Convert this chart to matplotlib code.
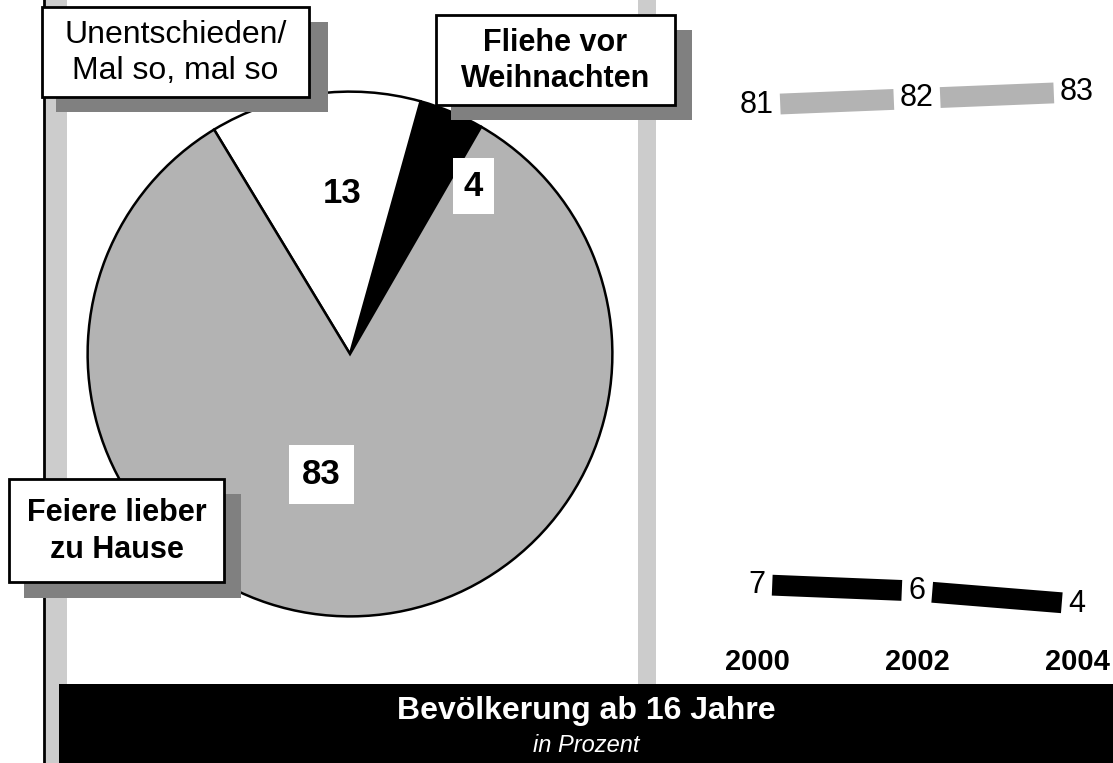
import matplotlib
matplotlib.use("Agg")
import matplotlib.pyplot as plt
import matplotlib.transforms as mtransforms
from matplotlib.patches import Rectangle

plt.rcParams["font.family"] = ["Liberation Sans", "DejaVu Sans"]

# --- data ---
pie_labels = ["Fliehe vor Weihnachten", "Unentschieden/Mal so, mal so", "Feiere lieber zu Hause"]
pie_values = [4, 13, 83]
pie_colors = ["#000000", "#ffffff", "#b3b3b3"]

years = [2000, 2002, 2004]
home_values = [81, 82, 83]
flee_values = [7, 6, 4]

title = "Bevölkerung ab 16 Jahre"
subtitle = "in Prozent"

W, H = 1113, 763
fig = plt.figure(figsize=(W / 100, H / 100), dpi=100)

# background layer in pixel coords
bg = fig.add_axes([0, 0, 1, 1], zorder=0)
bg.set_xlim(0, W)
bg.set_ylim(H, 0)
bg.axis("off")
bg.add_patch(Rectangle((45, 0), 22, H, color="#cccccc", lw=0))
bg.add_patch(Rectangle((638, 0), 18, 684, color="#cccccc", lw=0))
bg.plot([44, 44], [0, H], color="black", lw=2)

# pie
cx, cy, r = 350, 354, 265
ax_pie = fig.add_axes([(cx - r) / W, (H - cy - r) / H, 2 * r / W, 2 * r / H], zorder=1)
wedges, _ = ax_pie.pie(pie_values, colors=pie_colors, startangle=60, counterclock=True,
                       wedgeprops=dict(edgecolor="black", linewidth=1.8))
ax_pie.set_xlim(-1.01, 1.01)
ax_pie.set_ylim(-1.01, 1.01)
ax_pie.axis("off")
ax_pie.text(-0.03, 0.61, str(pie_values[1]), ha="center", va="center",
            fontsize=25, fontweight="bold")
ax_pie.text(0.47, 0.64, str(pie_values[0]), ha="center", va="center",
            fontsize=25, fontweight="bold",
            bbox=dict(boxstyle="square,pad=0.32", fc="white", ec="none"))
ax_pie.text(-0.11, -0.46, str(pie_values[2]), ha="center", va="center",
            fontsize=25, fontweight="bold",
            bbox=dict(boxstyle="square,pad=0.38", fc="white", ec="none"))

# line chart
x0, x1 = 700, W
y0, y1 = 60, 640
ax_line = fig.add_axes([x0 / W, (H - y1) / H, (x1 - x0) / W, (y1 - y0) / H], zorder=1)
ax_line.set_xlim(2000 - 57 / 80, 2004 + 36 / 80)
ax_line.set_ylim(4 - 36 / 6.48, 83 + 32 / 6.48)
ax_line.axis("off")
for vals, col, gap in [(home_values, "#b3b3b3", 0.29), (flee_values, "#000000", 0.19)]:
    for i in range(len(years) - 1):
        xa, xb = years[i], years[i + 1]
        va, vb = vals[i], vals[i + 1]
        sa = xa + gap
        sb = xb - gap
        ya = va + (vb - va) * (sa - xa) / (xb - xa)
        yb = va + (vb - va) * (sb - xa) / (xb - xa)
        ax_line.plot([sa, sb], [ya, yb], color=col, lw=15, solid_capstyle="butt")
    for x, v in zip(years, vals):
        ax_line.text(x, v, str(v), ha="center", va="center", fontsize=22)
trans = mtransforms.blended_transform_factory(ax_line.transData, bg.transData)
for x in years:
    ax_line.text(x, 662, str(x), transform=trans, ha="center", va="center",
                 fontsize=21, fontweight="bold")

# overlay: callout boxes and title bar
top = fig.add_axes([0, 0, 1, 1], zorder=2)
top.set_xlim(0, W)
top.set_ylim(H, 0)
top.axis("off")
top.patch.set_alpha(0)

boxes = [
    ((42, 7, 309, 97), (56, 22, 328, 112), "Unentschieden/\nMal so, mal so", "normal", 23),
    ((436, 15, 675, 105), (451, 30, 692, 120), "Fliehe vor\nWeihnachten", "bold", 22),
    ((9, 479, 224, 582), (24, 494, 241, 598), "Feiere lieber\nzu Hause", "bold", 22),
]
for (bx0, by0, bx1, by1), (sx0, sy0, sx1, sy1), txt, wt, fs in boxes:
    top.add_patch(Rectangle((sx0, sy0), sx1 - sx0, sy1 - sy0, color="#808080", lw=0))
    top.add_patch(Rectangle((bx0, by0), bx1 - bx0, by1 - by0, fc="white", ec="black", lw=2))
    top.text((bx0 + bx1) / 2, (by0 + by1) / 2 + 1, txt, ha="center", va="center",
             fontsize=fs, fontweight=wt, linespacing=1.3)

top.add_patch(Rectangle((59, 684), W - 59, H - 684, color="black", lw=0))
top.text(586, 711, title, ha="center", va="center", color="white",
         fontsize=23, fontweight="bold")
top.text(586, 745, subtitle, ha="center", va="center", color="white",
         fontsize=17, fontstyle="italic")

fig.savefig("out.png", dpi=100)
